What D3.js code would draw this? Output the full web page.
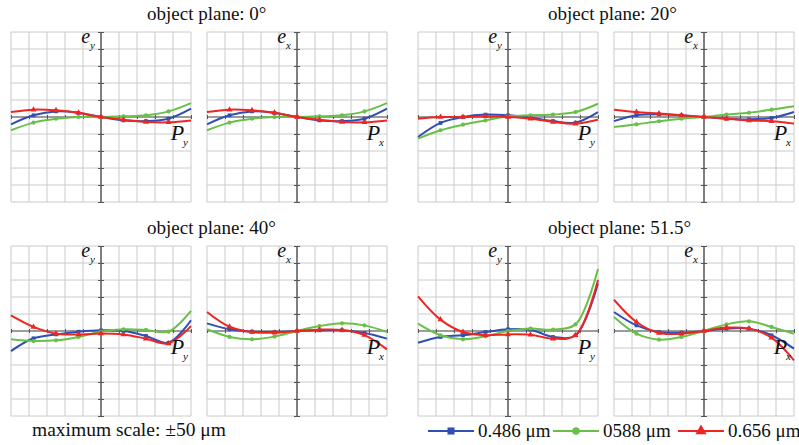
<!DOCTYPE html>
<html>
<head>
<meta charset="utf-8">
<script src="https://cdn.jsdelivr.net/npm/d3@7"></script>
<style>
  html, body { margin: 0; padding: 0; background: #fff; }
  svg { display: block; }
</style>
</head>
<body>
<svg id="chart" width="799" height="445" font-family="'Liberation Serif', 'DejaVu Serif', 'Times New Roman', serif"></svg>
<script>
// ---- data (pupil coordinate -1..1, aberration in μm, grid = 10 μm) ----
const pupil = [-1, -0.75, -0.5, -0.25, 0, 0.25, 0.5, 0.75, 1];
const wavelengths = ["0.486 μm", "0588 μm", "0.656 μm"];
const planeTitles = ["object plane: 0°", "object plane: 20°", "object plane: 40°", "object plane: 51.5°"];
const yTicks = [-50, -40, -30, -20, -10, 0, 10, 20, 30, 40, 50];
const xTicks = [-1, -0.8, -0.6, -0.4, -0.2, 0, 0.2, 0.4, 0.6, 0.8, 1];

// object plane 0°
const ey0_486 = [-4.3, 1.0, 3.3, 2.4, 0, -2.0, -2.4, -1.0, 4.9];
const ey0_588 = [-7.8, -3.3, -1.0, 0, 0, 0.4, 1.0, 3.3, 8.2];
const ey0_656 = [2.9, 4.3, 3.9, 2.5, 0, -1.6, -2.9, -3.1, -2.0];
const ex0_486 = [-4.3, 1.0, 3.3, 2.4, 0, -2.0, -2.4, -1.0, 4.9];
const ex0_588 = [-7.8, -3.3, -1.0, 0, 0, 0.4, 1.0, 3.3, 8.2];
const ex0_656 = [2.9, 4.3, 3.9, 2.5, 0, -1.6, -2.9, -3.1, -2.0];
// object plane 20°
const ey20_486 = [-11.8, -3.5, 0, 1.4, 1.0, -0.4, -2.4, -3.3, 2.9];
const ey20_588 = [-12.7, -7.8, -4.5, -2.0, 0.4, 1.0, 1.4, 2.9, 7.8];
const ey20_656 = [-1.0, 0, 0, 0.4, 0, -1.0, -2.9, -3.9, -1.6];
const ex20_486 = [-2.4, 1.0, 1.6, 1.0, 0, -1.0, -1.4, -0.6, 2.9];
const ex20_588 = [-5.9, -4.3, -2.5, -1.0, 0, 1.4, 2.5, 4.3, 6.3];
const ex20_656 = [4.3, 2.9, 2.0, 1.0, 0, -1.0, -2.0, -2.5, -3.9];
// object plane 40°
const ey40_486 = [-11.8, -4.3, -2.0, -0.4, 0.4, 0, -2.9, -6.9, 6.3];
const ey40_588 = [-4.9, -5.9, -5.5, -3.5, -0.4, 1.0, 0.6, -0.4, 11.8];
const ey40_656 = [9.2, 2.4, -1.6, -2.0, -1.4, -2.0, -4.5, -7.3, 2.9];
const ex40_486 = [4.5, 1.0, -0.4, -0.6, 0, 0.4, 0.4, -1.2, -4.5];
const ex40_588 = [1.0, -3.5, -4.9, -3.3, 0, 2.9, 4.5, 3.3, -0.6];
const ex40_656 = [11.2, 2.5, -0.6, -1.0, 0, 0.8, 0.6, -2.4, -10.8];
// object plane 51.5°
const ey51_486 = [-6.9, -3.5, -2.5, -0.6, 1.0, 0.8, -3.5, -2.5, 28.0];
const ey51_588 = [4.3, -2.5, -4.9, -3.1, 0, 1.4, 0.8, 3.9, 36.5];
const ey51_656 = [20.4, 6.7, -0.6, -2.5, -2.0, -2.2, -4.5, -2.5, 30.0];
const ex51_486 = [11.2, 3.3, -0.6, -1.0, 0, 1.4, 1.4, -2.5, -10.4];
const ex51_588 = [8.2, -1.6, -5.1, -3.5, 0, 3.9, 5.7, 2.4, -1.6];
const ex51_656 = [18.4, 5.3, -1.2, -1.6, 0, 2.0, 1.4, -3.9, -17.3];

const colors = ["#2f4fb3", "#69c048", "#ee2622"];
const FONT = "Liberation Serif, DejaVu Serif, serif";

const panels = [
  { left: 11,  top: 32,  e: "y", series: [ey0_486, ey0_588, ey0_656] },
  { left: 207, top: 32,  e: "x", series: [ex0_486, ex0_588, ex0_656] },
  { left: 418, top: 32,  e: "y", series: [ey20_486, ey20_588, ey20_656] },
  { left: 614, top: 32,  e: "x", series: [ex20_486, ex20_588, ex20_656] },
  { left: 11,  top: 246, e: "y", series: [ey40_486, ey40_588, ey40_656] },
  { left: 207, top: 246, e: "x", series: [ex40_486, ex40_588, ex40_656] },
  { left: 418, top: 246, e: "y", series: [ey51_486, ey51_588, ey51_656] },
  { left: 614, top: 246, e: "x", series: [ex51_486, ex51_588, ex51_656] }
];
const titlePos = [[147, 20], [548, 20], [147, 234], [548, 234]];

const W = 180, H = 170;
const x = d3.scaleLinear().domain([-1, 1]).range([0, W]);
const y = d3.scaleLinear().domain([-50, 50]).range([H, 0]);

const svg = d3.select("#chart");

planeTitles.forEach((t, i) => {
  svg.append("text").attr("x", titlePos[i][0]).attr("y", titlePos[i][1])
    .attr("font-family", FONT).attr("fill", "#111")
    .attr("font-size", "19px").text(t);
});

const line = d3.line().x(d => x(d[0])).y(d => y(d[1])).curve(d3.curveCatmullRom.alpha(0.5));
const sym = [d3.symbolSquare, d3.symbolCircle, d3.symbolTriangle];
const symSize = [14, 14, 16];

panels.forEach(p => {
  const g = svg.append("g").attr("transform", `translate(${p.left},${p.top})`);
  // grid
  g.append("g").selectAll("line").data(xTicks).join("line")
    .attr("x1", d => x(d)).attr("x2", d => x(d)).attr("y1", 0).attr("y2", H)
    .attr("stroke", "#cacaca").attr("stroke-width", 1);
  g.append("g").selectAll("line").data(yTicks).join("line")
    .attr("y1", d => y(d)).attr("y2", d => y(d)).attr("x1", 0).attr("x2", W)
    .attr("stroke", "#cacaca").attr("stroke-width", 1);
  // axes
  const ax = g.append("g").attr("transform", `translate(${x(0)},0)`)
    .call(d3.axisLeft(y).tickValues(yTicks).tickSize(3).tickFormat(""));
  ax.select(".domain").remove();
  ax.selectAll(".tick line").attr("stroke", "#555").attr("x2", 3).attr("x1", -3);
  g.append("line").attr("x1", x(0)).attr("x2", x(0)).attr("y1", 0).attr("y2", H)
    .attr("stroke", "#555").attr("stroke-width", 1.4);
  const axx = g.append("g").attr("transform", `translate(0,${y(0)})`)
    .call(d3.axisBottom(x).tickValues(xTicks).tickSize(3).tickFormat(""));
  axx.select(".domain").remove();
  axx.selectAll(".tick line").attr("stroke", "#555").attr("y1", -2).attr("y2", 2);
  g.append("line").attr("x1", 0).attr("x2", W).attr("y1", y(0)).attr("y2", y(0))
    .attr("stroke", "#555").attr("stroke-width", 1.2);

  // curves
  p.series.forEach((vals, si) => {
    const pts = pupil.map((px, k) => [px, vals[k]]);
    g.append("path").datum(pts).attr("d", line)
      .attr("fill", "none").attr("stroke", colors[si]).attr("stroke-width", 2);
    g.append("g").selectAll("path").data(pts.filter(d => Math.abs(d[0]) < 1)).join("path")
      .attr("transform", d => `translate(${x(d[0])},${y(d[1])})`)
      .attr("d", d3.symbol().type(sym[si]).size(symSize[si]))
      .attr("fill", colors[si]);
  });

  // labels
  const el = g.append("text").attr("x", x(0) - 6).attr("y", 11)
    .attr("font-family", FONT).attr("fill", "#111")
    .attr("text-anchor", "end").attr("font-style", "italic").attr("font-size", "20px");
  el.append("tspan").text("e");
  el.append("tspan").attr("dy", 6).attr("font-size", "11px").text(p.e);
  const pl = g.append("text").attr("x", W - 3).attr("y", 108)
    .attr("font-family", FONT).attr("fill", "#111")
    .attr("text-anchor", "end").attr("font-style", "italic").attr("font-size", "22px");
  pl.append("tspan").text("P");
  pl.append("tspan").attr("dy", 6).attr("dx", -1).attr("font-size", "11px").text(p.e);
});

// bottom note
svg.append("text").attr("x", 32).attr("y", 436).attr("font-size", "19.5px")
  .attr("font-family", FONT).attr("fill", "#111")
  .text("maximum scale: ±50 μm");

// legend
const legX = [428, 553, 678];
const leg = svg.append("g");
wavelengths.forEach((w, i) => {
  const lg = leg.append("g").attr("transform", `translate(${legX[i]},431)`);
  lg.append("line").attr("x1", 0).attr("x2", 46).attr("y1", 0).attr("y2", 0)
    .attr("stroke", colors[i]).attr("stroke-width", 2);
  lg.append("path").attr("transform", "translate(23,0)")
    .attr("d", d3.symbol().type(sym[i]).size([50, 45, 55][i])).attr("fill", colors[i]);
  lg.append("text").attr("x", 50).attr("y", 6).attr("font-size", "19px")
    .attr("font-family", FONT).attr("fill", "#111").text(w);
});
</script>
</body>
</html>
